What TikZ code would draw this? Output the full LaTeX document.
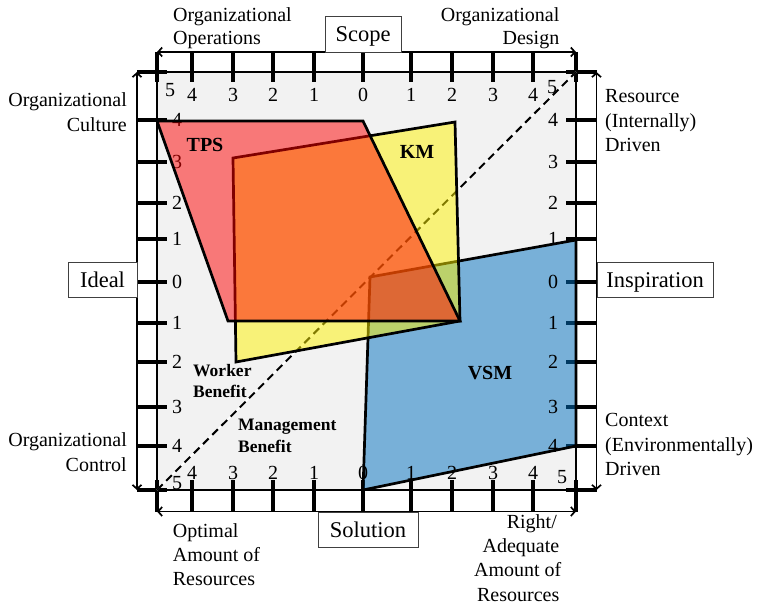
\documentclass[tikz,border=0pt]{standalone}
\usepackage{fontspec}
\setmainfont{Liberation Serif}
\usetikzlibrary{arrows.meta}
\definecolor{bgG}{RGB}{242,242,242}
\definecolor{vsmB}{RGB}{0,112,192}
\begin{document}
\begin{tikzpicture}[x=1pt,y=-1pt,
  lbl/.style={font=\fontsize{20}{24}\selectfont, inner sep=0pt},
  num/.style={font=\fontsize{20}{24}\selectfont, inner sep=0pt},
  boxlbl/.style={draw=black!75, line width=0.8pt, font=\fontsize{22.5}{26}\selectfont, text height=15pt, text depth=0pt, inner sep=0pt, fill=white},
  boldlbl/.style={font=\fontsize{20}{24}\selectfont\bfseries, inner sep=0pt},
  benlbl/.style={font=\fontsize{17.5}{21}\selectfont\bfseries, inner sep=0pt},
  axisline/.style={line width=1.7pt, {Straight Barb[length=4pt,width=9pt]}-{Straight Barb[length=4pt,width=9pt]}},
  tickmark/.style={line width=4pt},
  region/.style={line width=2.7pt, line join=miter, draw=black}
]
\useasboundingbox (0,0) rectangle (758,607);
% corners
\coordinate (TL) at (157,72);
\coordinate (TR) at (576,72);
\coordinate (BL) at (157,490);
\coordinate (BR) at (576,490);
% plot area
\draw[line width=1.2pt, fill=bgG] (TL) rectangle (BR);
% outer axes
\coordinate (topL) at (157,52);   \coordinate (topR) at (576,52);
\coordinate (botL) at (157,511.5); \coordinate (botR) at (576,511.5);
\coordinate (lefT) at (137,72);   \coordinate (lefB) at (137,490);
\coordinate (rigT) at (596.5,72); \coordinate (rigB) at (596.5,490);
\draw[axisline] (topL) -- (topR);
\draw[axisline] (botL) -- (botR);
\draw[axisline] (lefT) -- (lefB);
\draw[axisline] (rigT) -- (rigB);
% ticks
\foreach \x in {157,192,233,273,314,363,411,452,493,533,576}{
  \draw[tickmark] (\x,52) -- (\x,82);
  \draw[tickmark] (\x,480) -- (\x,511.5);
}
\foreach \y in {72,120,162,203,239,282,323,362,407,446,490}{
  \draw[tickmark] (137,\y) -- (167,\y);
  \draw[tickmark] (566,\y) -- (596.5,\y);
}
% top and left tick labels (under the regions)
\node[num] (t5a) at (170,90) {5};
\node[num] (t5b) at (552,87) {5};
\foreach \x/\t [count=\i] in {192/4,233/3,273/2,314/1,363/0,411/1,452/2,493/3,533/4}{
  \node[num] (tt\i) at (\x,95) {\t};
}
\foreach \y/\t [count=\i] in {120/4,162/3,203/2,239/1,282/0,323/1,362/2,407/3,446/4}{
  \node[num] (tl\i) at (177,\y) {\t};
}
% diagonal
\draw[white, line width=1.6pt] (BL) -- (TR);
\draw[black, line width=2pt, dash pattern=on 8pt off 5pt] (BL) -- (TR);
% regions
\draw[region, fill=vsmB, fill opacity=0.5] (370,277) -- (576,240) -- (576,446) -- (363,490) -- cycle;
\draw[region, fill=yellow, fill opacity=0.5] (233,158) -- (455,122) -- (460,321) -- (236,362) -- cycle;
\draw[region, fill=red, fill opacity=0.5] (157,121) -- (363,121) -- (460,321) -- (228,321) -- cycle;
% right and bottom tick labels
\node[num] (t5c) at (177,483) {5};
\node[num] (t5d) at (562,477) {5};
\foreach \x/\t [count=\i] in {192/4,233/3,273/2,314/1,363/0,411/1,452/2,493/3,533/4}{
  \node[num] (tb\i) at (\x,473) {\t};
}
\foreach \y/\t [count=\i] in {120/4,162/3,203/2,239/1,282/0,323/1,362/2,407/3,446/4}{
  \node[num] (tr\i) at (553,\y) {\t};
}
% region labels
\node[boldlbl] (tps) at (205,145) {TPS};
\node[boldlbl] (km) at (417,152) {KM};
\node[boldlbl] (vsm) at (490,373) {VSM};
\node[benlbl, anchor=base west] (wb1) at (193,376.7) {Worker};
\node[benlbl, anchor=base west] (wb2) at (193,397) {Benefit};
\node[benlbl, anchor=base west] (mb1) at (238,430) {Management};
\node[benlbl, anchor=base west] (mb2) at (238,452) {Benefit};
% boxes
\node[boxlbl, minimum width=76pt, minimum height=36pt] (scope) at (363,34) {Scope};
\node[boxlbl, minimum width=69pt, minimum height=35pt] (ideal) at (102.5,279.5) {Ideal};
\node[boxlbl, minimum width=116pt, minimum height=35pt] (insp) at (655,279.5) {Inspiration};
\node[boxlbl, minimum width=100pt, minimum height=35pt] (sol) at (368,529.5) {Solution};
% corner labels
\node[lbl, anchor=base west] (oo1) at (173,22) {Organizational};
\node[lbl, anchor=base west] (oo2) at (173,45) {Operations};
\node[lbl, anchor=base east] (od1) at (559.5,22) {Organizational};
\node[lbl, anchor=base east] (od2) at (559.5,45) {Design};
\node[lbl, anchor=base east] (oc1) at (127,107) {Organizational};
\node[lbl, anchor=base east] (oc2) at (127,132) {Culture};
\node[lbl, anchor=base east] (ok1) at (127,446.7) {Organizational};
\node[lbl, anchor=base east] (ok2) at (127,471.7) {Control};
\node[lbl, anchor=base west] (ri1) at (605,103) {Resource};
\node[lbl, anchor=base west] (ri2) at (605,128) {(Internally)};
\node[lbl, anchor=base west] (ri3) at (605,151.7) {Driven};
\node[lbl, anchor=base west] (ce1) at (605,426.7) {Context};
\node[lbl, anchor=base west] (ce2) at (605,451.7) {(Environmentally)};
\node[lbl, anchor=base west] (ce3) at (605,475) {Driven};
\node[lbl, anchor=base east] (ra1) at (557,528) {Right/};
\node[lbl, anchor=base east] (ra2) at (559.5,552.7) {Adequate};
\node[lbl, anchor=base east] (ra3) at (561.5,576.7) {Amount of};
\node[lbl, anchor=base east] (ra4) at (559.5,601.7) {Resources};
\node[lbl, anchor=base west] (op1) at (172.7,537) {Optimal};
\node[lbl, anchor=base west] (op2) at (172.7,561.7) {Amount of};
\node[lbl, anchor=base west] (op3) at (172.7,585.7) {Resources};
\end{tikzpicture}
\end{document}
